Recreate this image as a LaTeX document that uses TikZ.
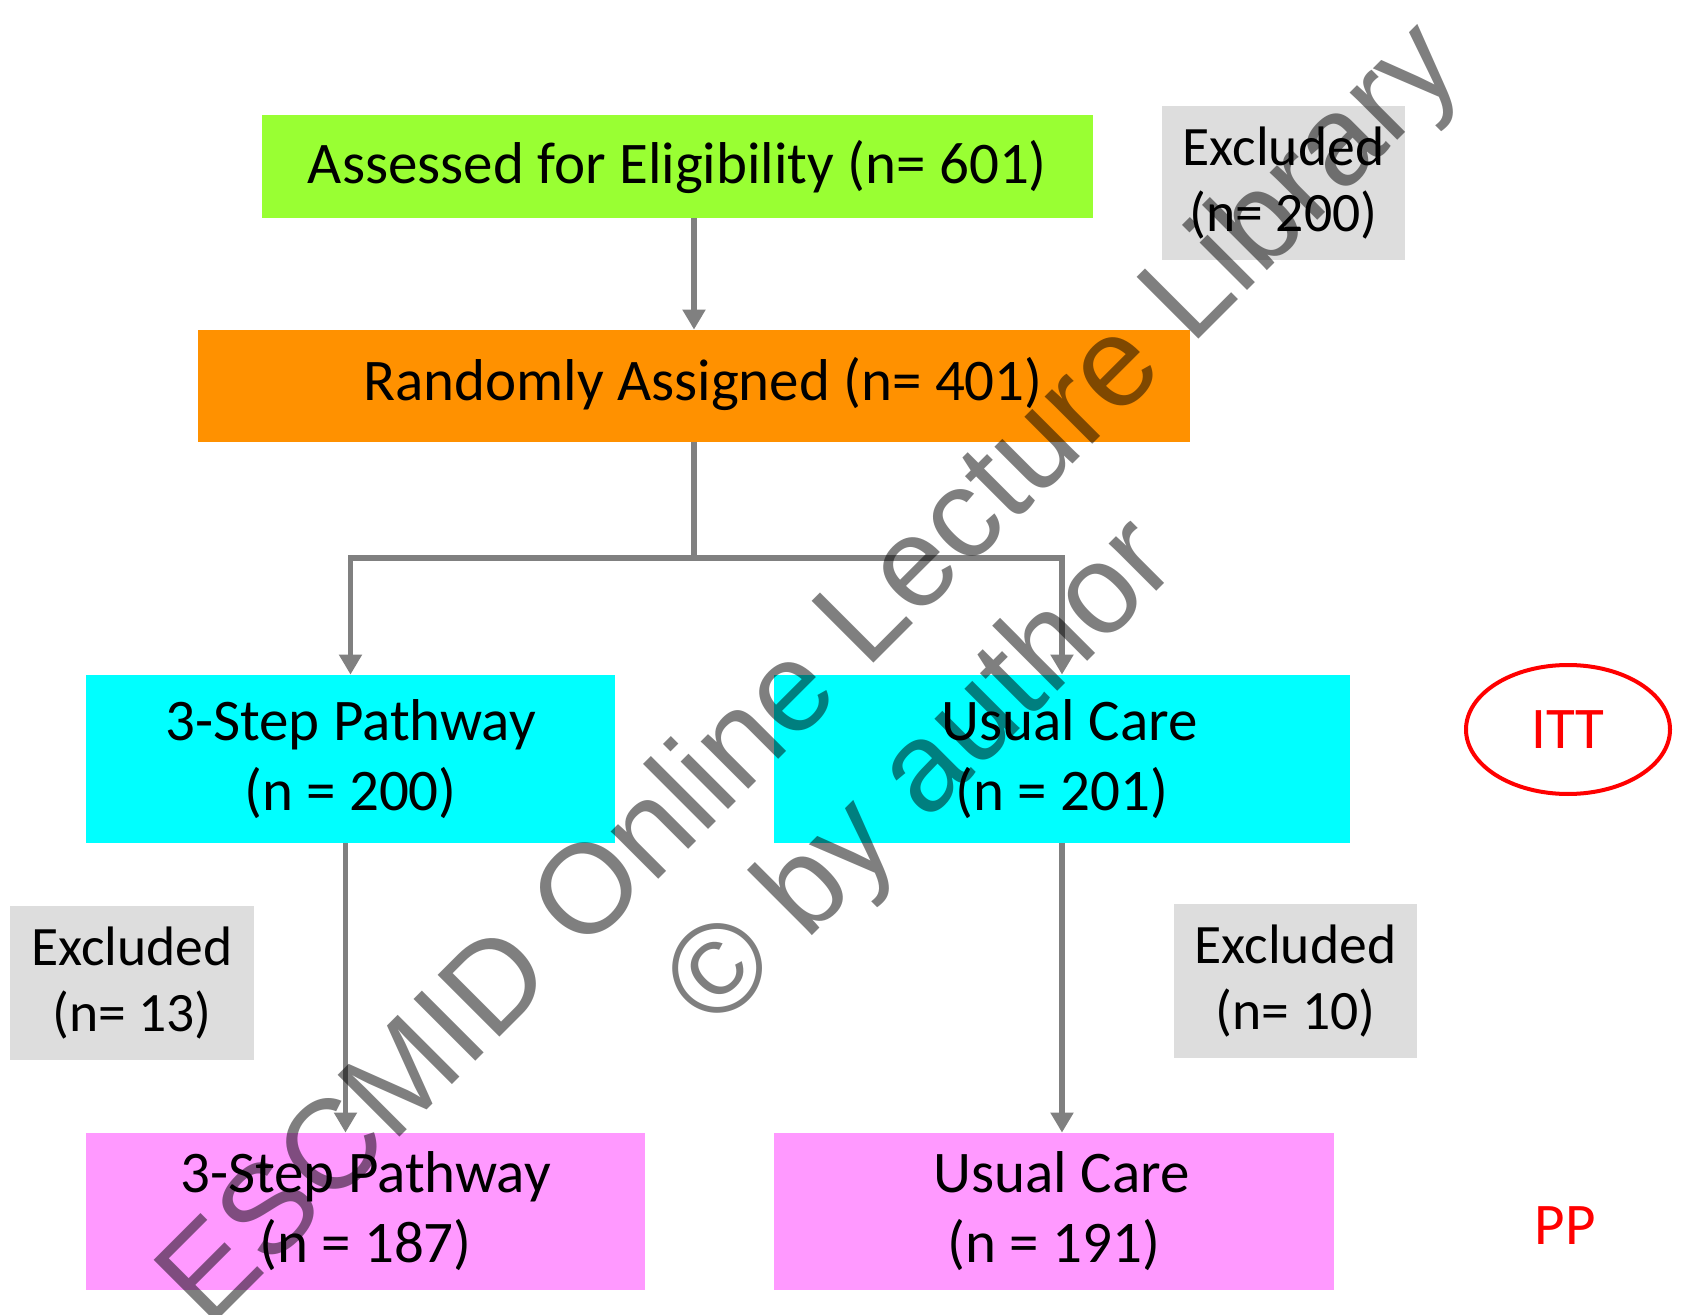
\documentclass[tikz,border=0pt]{standalone}
\usepackage{fontspec}
\setmainfont{Carlito}
\newfontfamily\wmfont{Liberation Sans}
\usetikzlibrary{arrows.meta,calc,shapes.geometric}
\definecolor{cgreen}{HTML}{99FF33}
\definecolor{corange}{HTML}{FF9100}
\definecolor{ccyan}{HTML}{00FFFF}
\definecolor{cpink}{HTML}{FF99FF}
\definecolor{cgrey}{HTML}{DDDDDD}
\definecolor{cline}{HTML}{808080}
\definecolor{cred}{HTML}{FF0000}
\tikzset{
  box/.style={rectangle, inner sep=0pt, align=center, font=\fontsize{29.5}{35}\selectfont},
  exbox/.style={box, fill=cgrey, minimum width=121.5pt, minimum height=77pt, font=\fontsize{27.8}{33}\selectfont},
  conn/.style={draw=cline, line width=2.6pt},
  arr/.style={conn, -{Triangle[width=11pt,length=10pt]}},
  wm/.style={font=\wmfont\fontsize{63.5}{76}\selectfont, text=black, text opacity=0.5, rotate=45, inner sep=0pt}
}
\begin{document}
\begin{tikzpicture}[x=0.5pt,y=-0.5pt]
\useasboundingbox (0,0) rectangle (1681,1315);
\fill[white] (0,0) rectangle (1681,1315);
\node[box, fill=cgreen, minimum width=415.5pt, minimum height=51.5pt] (assess) at (677.5,166.5) {Assessed for Eligibility (n= 601)};
\node[exbox] (excl1) at (1283.5,183) {Excluded\\(n= 200)};
\node[box, fill=corange, minimum width=496pt, minimum height=56pt] (rand) at (694,386) {\raisebox{7pt}{\hspace*{9pt}Randomly Assigned (n= 401)}};
\node[box, fill=ccyan, minimum width=264.5pt, minimum height=84pt] (step) at (350.5,759) {3-Step Pathway\\(n = 200)};
\node[box, fill=ccyan, minimum width=288pt, minimum height=84pt] (usual) at (1062,759) {\hspace*{7.5pt}Usual Care\\(n = 201)};
\node[exbox, minimum width=122pt] (excl2) at (132,983) {Excluded\\(n= 13)};
\node[exbox] (excl3) at (1295.5,981) {Excluded\\(n= 10)};
\node[box, fill=cpink, minimum width=279.5pt, minimum height=78.5pt] (steppp) at (365.5,1211.5) {3-Step Pathway\\(n = 187)};
\node[box, fill=cpink, minimum width=280pt, minimum height=78.5pt] (usualpp) at (1054,1211.5) {\hspace*{7.5pt}Usual Care\\(n = 191)};
\node[ellipse, draw=cred, line width=2pt, minimum width=102pt, minimum height=64.5pt, inner sep=0pt] (itt) at (1568,729.5) {};
\node[box, text=cred] (itttext) at (itt.center) {ITT};
\node[box, text=cred] (pp) at (1565,1226) {PP};
\coordinate (split) at (694,558);
\draw[arr] (rand.north |- assess.south) -- (rand.north);
\draw[conn] (rand.south) -- (split);
\draw[arr] (split) -| (step.north);
\draw[arr] (split) -| (usual.north);
\draw[arr] ([xshift=-2.5pt]step.south) -- ([xshift=-2.5pt]step.south |- steppp.north);
\draw[arr] (usual.south) -- (usual.south |- usualpp.north);
\node[wm] (wm1) at (814,677) {ESCMID Online Lecture Library};
\node[wm] (wm2) at (925,777) {\symbol{"00A9} by author};
\end{tikzpicture}
\end{document}
